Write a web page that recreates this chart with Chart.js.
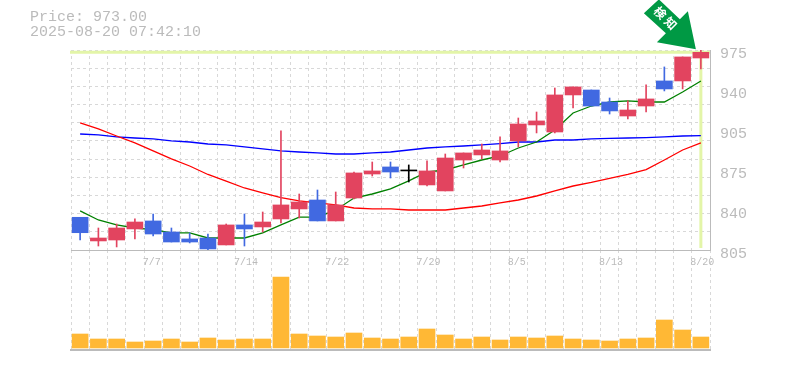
<!DOCTYPE html>
<html>
<head>
<meta charset="utf-8">
<style>
  html, body { margin: 0; padding: 0; background: #fff; overflow: hidden; }
  #wrap { position: relative; width: 785px; height: 370px; }
  canvas { position: absolute; left: 0; top: 0; }
  #info { position: absolute; left: 30px; top: 10px; font: 15px/15px "Liberation Mono", monospace; color: #bbb; white-space: pre; }
</style>
<script src="https://cdn.jsdelivr.net/npm/chart.js@4/dist/chart.umd.min.js"></script>
</head>
<body>
<div id="wrap">
  <canvas id="volChart" width="785" height="370"></canvas>
  <canvas id="priceChart" width="785" height="370"></canvas>
  <div id="info">Price: 973.00
2025-08-20 07:42:10</div>
</div>
<script>
// Datos
const fechas = ['7/1','7/2','7/3','7/4','7/7','7/8','7/9','7/10','7/11','7/14','7/15','7/16','7/17','7/18','7/22','7/23','7/24','7/25','7/28','7/29','7/30','7/31','8/1','8/4','8/5','8/6','8/7','8/8','8/12','8/13','8/14','8/15','8/18','8/19','8/20'];
const apertura = [832.8,812.7,813.5,822.9,829.7,820.3,814.4,815.2,809.3,826.3,824.6,831.4,839.9,847.5,829.7,849.2,869.6,875.6,872.2,860.3,855.2,881.5,885.8,881.5,897.7,911.3,905.3,936.8,941,930.8,918.9,927.4,948.7,948.7,968.2];
const cierre = [819.7,815.2,823.7,828.8,818.6,811.8,811.8,805.9,826.3,822.9,828.8,843.3,845.8,829.7,843.3,870.5,872.2,871.3,872.2,872.2,883.2,887.5,890,889.2,912.1,914.7,936.8,943.6,927.4,923.2,924,933.4,941.9,969.1,973];
const maximo = [832.8,823.7,827.1,831.4,835.6,823.7,819.5,818.6,827.1,835.6,837.3,906.2,852.6,856,854.3,871.3,879.8,879.8,877.3,880.7,886.6,887.5,895.1,901.1,917.2,922.3,942.7,943.6,941,934.2,931.7,945.3,960.6,969.1,975];
const minimo = [813.5,808.4,807.6,814.4,816.9,811.8,811,805,809.3,808.4,820.3,828,832.2,829.7,829.7,848.4,867.9,866.2,862.8,859.4,855.2,874.7,882.4,879.8,892.6,904.5,904.5,925.7,927.4,920.6,916.4,922.3,940.2,941.9,958.9];
const media5 = [838.2,830.5,826.3,823.7,822.4,819.5,819.5,815.2,815.2,815.2,819.5,826.3,833,833,839,849.2,852.6,856.9,863.7,871.3,873,877.3,881.5,884.9,891.7,896.8,907,921.5,927.4,930.8,931.7,930.8,930.8,939.3,948.7];
const media25 = [913,907.9,901.9,896,889.2,882.4,876.4,869.2,863.6,857.7,853.5,849.6,846.7,845,843.3,840.7,839.9,839.9,839,839,839,840.7,842.4,845,847.5,850.9,855.2,859.4,862.4,865.8,869.2,873.4,881.5,890,896];
const media75 = [903.6,902.8,901.1,900.2,899.4,897.7,896.8,895.1,894.3,892.6,890.9,889.2,888.3,887.5,886.6,886.6,887.5,888.3,890,891.7,892.6,893.4,894.3,895.5,896.8,896.8,898.5,898.5,899.4,899.8,900.2,900.6,901.1,901.9,902.3];
const volumen = [14,9,9,6,7,9,6,10,8,9,9,71,14,12,11,15,10,9,11,19,13,9,11,8,11,10,12,9,8,7,9,10,28,18,11];
const ticksPrecio = [805,840,875,905,940,975];
const precioActual = 973;

const AZUL = '#4169e1', ROJO = '#e2445f', NARANJA = '#ffb835';
const GRIS = '#bbbbbb', REJILLA = '#d8d8d8', RESALTE = '#e3f5a8';
const FUENTE = '"Liberation Mono", monospace';
const TRAZO = [3, 3];
const colorVela = apertura.map((o, i) => cierre[i] > o ? ROJO : (cierre[i] < o ? AZUL : '#000000'));

// Lineas de precio actual y flecha verde
const resaltePlugin = {
  id: 'resalte',
  beforeDatasetsDraw(chart) {
    const { ctx, chartArea, scales } = chart;
    const y = scales.y.getPixelForValue(precioActual);
    const x = scales.x.getPixelForValue(fechas.length - 1);
    ctx.save();
    ctx.strokeStyle = RESALTE;
    ctx.lineWidth = 3;
    ctx.beginPath();
    ctx.moveTo(chartArea.left - 1, y);
    ctx.lineTo(chartArea.right, y);
    ctx.moveTo(x, y);
    ctx.lineTo(x, chartArea.bottom - 2);
    ctx.stroke();
    ctx.restore();
  },
  afterDraw(chart) {
    const { ctx, scales } = chart;
    const px = scales.x.getPixelForValue(fechas.length - 1) - 5;
    const py = scales.y.getPixelForValue(precioActual) - 3;
    const forma = [[0,0],[-8,-38],[-16,-30],[-37,-50],[-52,-36],[-30,-16],[-39,-7]];
    ctx.save();
    ctx.fillStyle = '#009944';
    ctx.beginPath();
    forma.forEach(([a, b], i) => i ? ctx.lineTo(px + a, py + b) : ctx.moveTo(px + a, py + b));
    ctx.closePath();
    ctx.fill();
    ctx.translate(px - 30, py - 31);
    ctx.rotate(Math.PI / 4);
    ctx.fillStyle = '#fff';
    ctx.font = 'bold 12px "Noto Sans CJK JP"';
    ctx.letterSpacing = '3px';
    ctx.textAlign = 'center';
    ctx.textBaseline = 'middle';
    ctx.fillText('検知', 1, 0);
    ctx.restore();
  }
};

new Chart(document.getElementById('priceChart'), {
  data: {
    labels: fechas,
    datasets: [
      { type: 'line', data: media75, borderColor: '#0000ff', borderWidth: 1.3, pointRadius: 0, tension: 0, order: 5 },
      { type: 'line', data: media25, borderColor: '#ff0000', borderWidth: 1.3, pointRadius: 0, tension: 0, order: 4 },
      { type: 'line', data: media5, borderColor: '#008000', borderWidth: 1.3, pointRadius: 0, tension: 0, order: 3 },
      { type: 'bar', data: fechas.map((_, i) => [minimo[i], maximo[i]]), backgroundColor: colorVela, barThickness: 1, grouped: false, order: 2 },
      { type: 'bar', data: fechas.map((_, i) => [apertura[i], cierre[i]]), backgroundColor: colorVela, barThickness: 16, minBarLength: 1, grouped: false, order: 1 }
    ]
  },
  options: {
    responsive: false,
    animation: false,
    layout: { padding: { left: 71, top: 50 } },
    plugins: { legend: { display: false }, tooltip: { enabled: false } },
    scales: {
      x: {
        type: 'category',
        offset: true,
        afterFit(s) { s.height = 120; },
        grid: { offset: true, color: REJILLA, drawTicks: false },
        border: { color: GRIS, width: 1, dash: TRAZO },
        ticks: {
          autoSkip: false, maxRotation: 0, padding: 6, color: GRIS,
          align: 'start', labelOffset: -10.5,
          font: { family: FUENTE, size: 10 },
          callback(v, i) { return i % 5 === 4 ? fechas[i] : ''; }
        }
      },
      yRejilla: {
        position: 'right', min: 805, max: 975,
        afterBuildTicks(s) { s.ticks = Array.from({ length: 12 }, (_, i) => ({ value: 805 + i * 170 / 11 })); },
        afterFit(s) { s.width = 0; },
        grid: { color: REJILLA, drawTicks: false },
        border: { color: GRIS, width: 1, dash: TRAZO },
        ticks: { display: false }
      },
      y: {
        position: 'right', min: 805, max: 975,
        afterBuildTicks(s) { s.ticks = ticksPrecio.map((_, i) => ({ value: 805 + i * 34 })); },
        afterFit(s) { s.width = 75; },
        grid: { display: false, drawTicks: false },
        border: { display: false },
        ticks: {
          padding: 10, labelOffset: 4, color: GRIS,
          font: { family: FUENTE, size: 15 },
          callback(v, i) { return String(ticksPrecio[i]); }
        }
      }
    }
  },
  plugins: [resaltePlugin]
});

new Chart(document.getElementById('volChart'), {
  data: {
    labels: fechas,
    datasets: [
      { type: 'bar', data: volumen, backgroundColor: NARANJA, barThickness: 16 }
    ]
  },
  options: {
    responsive: false,
    animation: false,
    layout: { padding: { left: 71, top: 250, right: 75, bottom: 20 } },
    plugins: { legend: { display: false }, tooltip: { enabled: false } },
    scales: {
      x: {
        type: 'category',
        offset: true,
        grid: { offset: true, color: REJILLA, drawTicks: false },
        border: { color: GRIS, width: 2, dash: TRAZO },
        ticks: { display: false }
      },
      y: { display: false, min: -2, max: 98 }
    }
  }
});
</script>
</body>
</html>
